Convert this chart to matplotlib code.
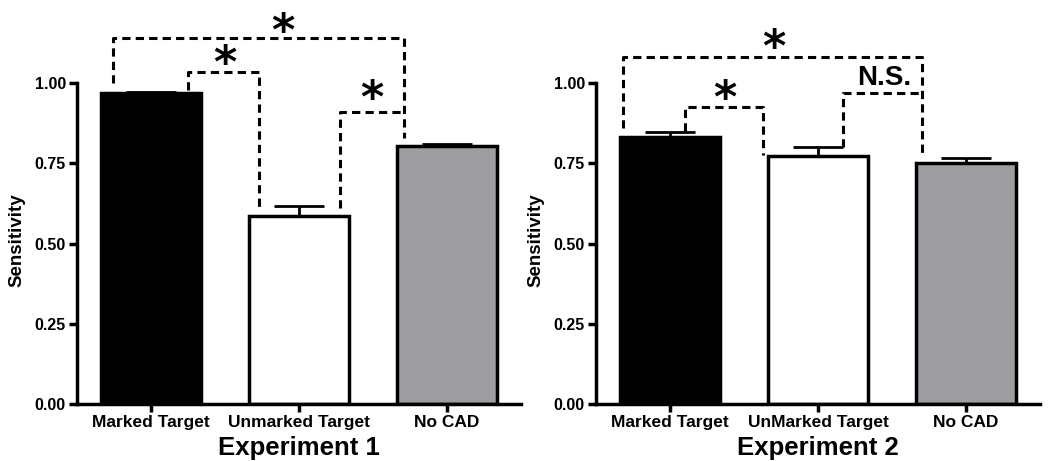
import matplotlib.pyplot as plt
import numpy as np

plt.rcParams['font.family'] = ['Liberation Sans', 'DejaVu Sans']
plt.rcParams['font.weight'] = 'bold'

# datos
cats1 = ['Marked Target', 'Unmarked Target', 'No CAD']
cats2 = ['Marked Target', 'UnMarked Target', 'No CAD']
vals1 = [0.970, 0.585, 0.805]
errs1 = [0.004, 0.033, 0.005]
vals2 = [0.833, 0.772, 0.750]
errs2 = [0.016, 0.030, 0.016]
colores = ['black', 'white', '#9e9da2']
yticks = [0.0, 0.25, 0.5, 0.75, 1.0]

# corchetes de significación: (x1, x2, y, pata izq., pata der., texto, x texto, y texto)
corchetes1 = [(-0.26, 1.71, 1.14, 1.0, 0.83, '*', 0.89, 1.18),
              (0.25, 0.73, 1.035, 0.98, 0.61, '*', 0.50, 1.08),
              (1.28, 1.71, 0.91, 0.61, 0.91, '*', 1.49, 0.97)]
corchetes2 = [(-0.32, 1.70, 1.08, 0.86, 0.77, '*', 0.70, 1.13),
              (0.10, 0.63, 0.925, 0.85, 0.775, '*', 0.37, 0.97),
              (1.17, 1.70, 0.97, 0.80, 0.97, 'N.S.', 1.45, 1.015)]

fig = plt.figure(figsize=(10.5, 4.61), dpi=100)
ax1 = fig.add_axes([77/1050, 57/461, 444/1050, 385/461])
ax2 = fig.add_axes([596/1050, 57/461, 444/1050, 385/461])


def panel(ax, cats, vals, errs, corchetes, titulo):
    x = np.arange(len(cats))
    ax.bar(x, vals, width=0.67, color=colores, edgecolor='black', linewidth=2.5, zorder=2)
    ax.errorbar(x, vals, yerr=[np.zeros(3), errs], fmt='none', ecolor='black',
                elinewidth=2, capsize=18, capthick=2, zorder=1)
    ax.set_xlim(-0.5, 2.5)
    ax.set_ylim(0, 1.2)
    ax.set_yticks(yticks)
    ax.set_yticklabels(['%.2f' % t for t in yticks], fontsize=11.5, fontweight='bold')
    ax.set_xticks(x)
    ax.set_xticklabels(cats, fontsize=12.5, fontweight='bold')
    for s in ['top', 'right']:
        ax.spines[s].set_visible(False)
    ax.spines['left'].set_bounds(0, 1)
    for s in ['left', 'bottom']:
        ax.spines[s].set_linewidth(2.5)
    ax.tick_params(width=2.5, length=6, pad=2)
    ax.set_ylabel('Sensitivity', fontsize=13.5, fontweight='bold')
    ax.yaxis.set_label_coords(-0.117, 0.425)
    ax.set_xlabel(titulo, fontsize=18.5, fontweight='bold', labelpad=4)
    for x1, x2, y, yl, yr, txt, tx, ty in corchetes:
        ax.plot([x1, x1, x2, x2], [yl, y, y, yr], color='black', lw=2.2,
                linestyle=(0, (2.7, 1.7)), clip_on=False, solid_capstyle='butt')
        if txt == '*':
            ax.text(tx, ty - 0.022, txt, fontsize=32, fontweight='bold', ha='center',
                    va='center', family='DejaVu Sans')
        else:
            ax.text(tx, ty, txt, fontsize=20, fontweight='bold', ha='center', va='center')


panel(ax1, cats1, vals1, errs1, corchetes1, 'Experiment 1')
panel(ax2, cats2, vals2, errs2, corchetes2, 'Experiment 2')

plt.savefig('out.png', dpi=100)
